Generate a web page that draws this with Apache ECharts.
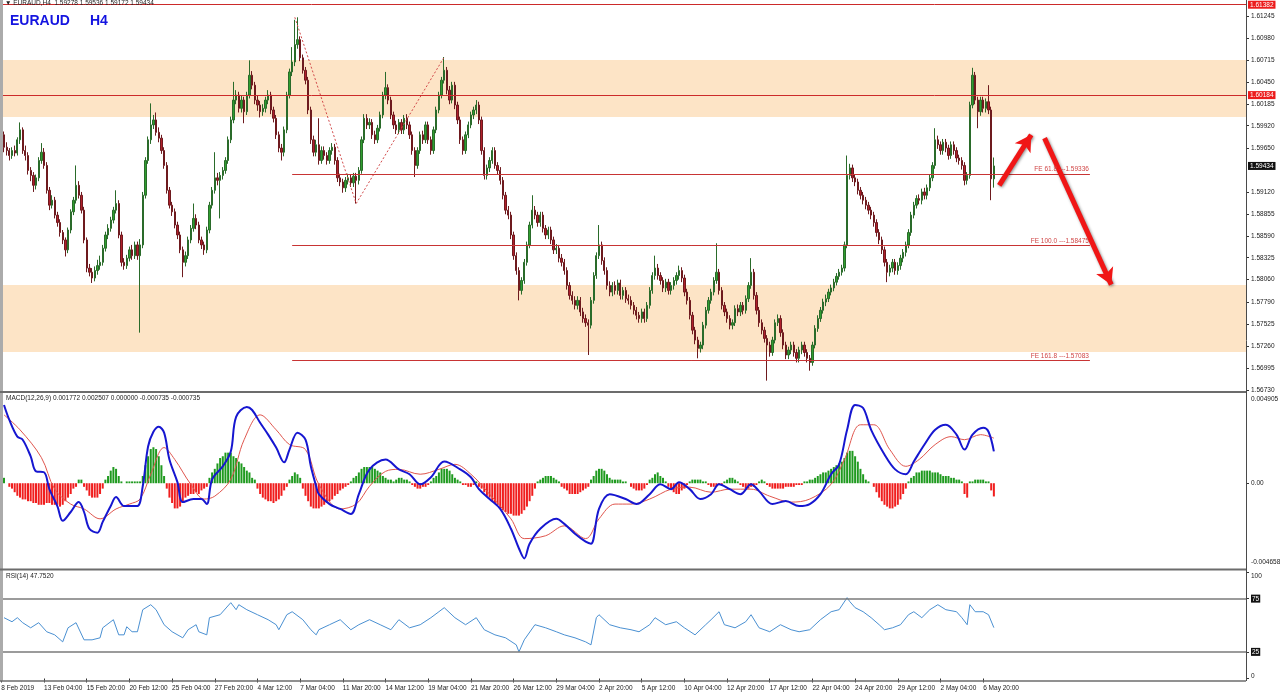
<!DOCTYPE html>
<html><head><meta charset="utf-8">
<script src="https://cdn.jsdelivr.net/npm/echarts@6/dist/echarts.min.js"></script>
<style>html,body{margin:0;padding:0;background:#fff}#c{width:1280px;height:693px}</style>
</head><body><div id="c"></div>
<script>
// ---------- DATA ----------
const symbolName = 'EURAUD';
const timeframe = 'H4';
const timeLabels = ['8 Feb 2019','13 Feb 04:00','15 Feb 20:00','20 Feb 12:00','25 Feb 04:00','27 Feb 20:00','4 Mar 12:00','7 Mar 04:00','11 Mar 20:00','14 Mar 12:00','19 Mar 04:00','21 Mar 20:00','26 Mar 12:00','29 Mar 04:00','2 Apr 20:00','5 Apr 12:00','10 Apr 04:00','12 Apr 20:00','17 Apr 12:00','22 Apr 04:00','24 Apr 20:00','29 Apr 12:00','2 May 04:00','6 May 20:00'];
const barsPerLabel = 16;
const slotCount = 467; // bars + empty future space

// [open, close, low, high]
const candles = [
[1.6001,1.5981,1.5975,1.6023],[1.5981,1.5966,1.5960,1.5985],[1.5966,1.5962,1.5956,1.5972],[1.5962,1.5956,1.5950,1.5965],[1.5956,1.5962,1.5952,1.5966],
[1.5962,1.5959,1.5955,1.5968],[1.5959,1.5975,1.5956,1.5978],[1.5975,1.5987,1.5970,1.5996],[1.5987,1.5962,1.5958,1.5990],[1.5962,1.5956,1.5950,1.5968],
[1.5956,1.5938,1.5933,1.5960],[1.5938,1.5932,1.5925,1.5942],[1.5932,1.5920,1.5912,1.5936],[1.5920,1.5929,1.5915,1.5933],[1.5929,1.5950,1.5925,1.5954],
[1.5950,1.5960,1.5946,1.5971],[1.5960,1.5944,1.5940,1.5965],[1.5944,1.5914,1.5910,1.5948],[1.5914,1.5896,1.5890,1.5918],[1.5896,1.5902,1.5892,1.5908],
[1.5902,1.5884,1.5880,1.5906],[1.5884,1.5875,1.5870,1.5888],[1.5875,1.5863,1.5858,1.5879],[1.5863,1.5854,1.5849,1.5866],[1.5854,1.5842,1.5834,1.5857],
[1.5842,1.5866,1.5838,1.5869],[1.5866,1.5888,1.5862,1.5891],[1.5888,1.5902,1.5884,1.5906],[1.5902,1.5920,1.5898,1.5944],[1.5920,1.5908,1.5904,1.5925],
[1.5908,1.5890,1.5886,1.5912],[1.5890,1.5854,1.5850,1.5894],[1.5854,1.5820,1.5815,1.5857],[1.5820,1.5815,1.5810,1.5825],[1.5815,1.5808,1.5802,1.5820],
[1.5808,1.5817,1.5804,1.5822],[1.5817,1.5823,1.5812,1.5830],[1.5823,1.5827,1.5818,1.5835],[1.5827,1.5844,1.5823,1.5848],[1.5844,1.5860,1.5840,1.5864],
[1.5860,1.5868,1.5855,1.5873],[1.5868,1.5878,1.5864,1.5882],[1.5878,1.5890,1.5874,1.5894],[1.5890,1.5898,1.5886,1.5914],[1.5898,1.5860,1.5856,1.5902],
[1.5860,1.5827,1.5822,1.5864],[1.5827,1.5823,1.5818,1.5832],[1.5823,1.5832,1.5819,1.5836],[1.5832,1.5842,1.5828,1.5846],[1.5842,1.5835,1.5830,1.5848],
[1.5835,1.5848,1.5831,1.5852],[1.5848,1.5835,1.5830,1.5852],[1.5835,1.5848,1.5742,1.5855],[1.5848,1.5908,1.5844,1.5912],[1.5908,1.5950,1.5904,1.5954],
[1.5950,1.5975,1.5946,1.5979],[1.5975,1.5993,1.5970,1.6019],[1.5993,1.5999,1.5988,1.6005],[1.5999,1.5984,1.5980,1.6008],[1.5984,1.5977,1.5972,1.5990],
[1.5977,1.5962,1.5958,1.5981],[1.5962,1.5944,1.5940,1.5966],[1.5944,1.5914,1.5910,1.5948],[1.5914,1.5896,1.5892,1.5918],[1.5896,1.5888,1.5883,1.5900],
[1.5888,1.5872,1.5868,1.5892],[1.5872,1.5860,1.5855,1.5876],[1.5860,1.5842,1.5838,1.5864],[1.5842,1.5827,1.5809,1.5846],[1.5827,1.5835,1.5822,1.5840],
[1.5835,1.5854,1.5831,1.5858],[1.5854,1.5868,1.5850,1.5872],[1.5868,1.5880,1.5864,1.5898],[1.5880,1.5872,1.5867,1.5885],[1.5872,1.5854,1.5850,1.5876],
[1.5854,1.5848,1.5843,1.5858],[1.5848,1.5842,1.5836,1.5852],[1.5842,1.5866,1.5838,1.5870],[1.5866,1.5896,1.5862,1.5900],[1.5896,1.5914,1.5892,1.5918],
[1.5914,1.5929,1.5910,1.5960],[1.5929,1.5926,1.5920,1.5935],[1.5926,1.5932,1.5880,1.5936],[1.5932,1.5938,1.5927,1.5942],[1.5938,1.5950,1.5934,1.5954],
[1.5950,1.5975,1.5946,1.5979],[1.5975,1.5999,1.5971,1.6003],[1.5999,1.6023,1.5995,1.6045],[1.6023,1.6029,1.6018,1.6035],[1.6029,1.6013,1.6008,1.6033],
[1.6013,1.6023,1.6008,1.6028],[1.6023,1.6009,1.5995,1.6027],[1.6009,1.6029,1.6005,1.6033],[1.6029,1.6053,1.6025,1.6071],[1.6053,1.6041,1.6036,1.6058],
[1.6041,1.6023,1.6018,1.6045],[1.6023,1.6017,1.6010,1.6028],[1.6017,1.6009,1.6002,1.6022],[1.6009,1.6013,1.6004,1.6018],[1.6013,1.6023,1.6008,1.6027],
[1.6023,1.6029,1.6018,1.6035],[1.6029,1.6011,1.6006,1.6033],[1.6011,1.6001,1.5996,1.6015],[1.6001,1.5981,1.5976,1.6005],[1.5981,1.5965,1.5960,1.5985],
[1.5965,1.5960,1.5950,1.5970],[1.5960,1.5987,1.5955,1.5991],[1.5987,1.6029,1.5983,1.6033],[1.6029,1.6057,1.6025,1.6061],[1.6057,1.6069,1.6052,1.6087],
[1.6069,1.6090,1.6064,1.6120],[1.6090,1.6096,1.6085,1.6123],[1.6096,1.6074,1.6070,1.6100],[1.6074,1.6059,1.6055,1.6078],[1.6059,1.6047,1.6042,1.6063],
[1.6047,1.6011,1.6006,1.6051],[1.6011,1.5975,1.5970,1.6015],[1.5975,1.5960,1.5955,1.5980],[1.5960,1.5969,1.5955,1.5975],[1.5969,1.5950,1.5945,1.6001],
[1.5950,1.5962,1.5946,1.5967],[1.5962,1.5956,1.5951,1.5967],[1.5956,1.5950,1.5945,1.5960],[1.5950,1.5962,1.5946,1.5966],[1.5962,1.5966,1.5957,1.5971],
[1.5966,1.5950,1.5945,1.5970],[1.5950,1.5929,1.5924,1.5954],[1.5929,1.5924,1.5919,1.5934],[1.5924,1.5917,1.5911,1.5928],[1.5917,1.5926,1.5912,1.5930],
[1.5926,1.5929,1.5921,1.5934],[1.5929,1.5923,1.5918,1.5933],[1.5923,1.5931,1.5918,1.5935],[1.5931,1.5926,1.5898,1.5935],[1.5926,1.5938,1.5921,1.5942],
[1.5938,1.5975,1.5934,1.5979],[1.5975,1.6001,1.5971,1.6006],[1.6001,1.5993,1.5988,1.6006],[1.5993,1.5996,1.5988,1.6001],[1.5996,1.5981,1.5976,1.6000],
[1.5981,1.5975,1.5970,1.5986],[1.5975,1.5989,1.5971,1.5993],[1.5989,1.6005,1.5985,1.6009],[1.6005,1.6029,1.6001,1.6033],[1.6029,1.6038,1.6024,1.6057],
[1.6038,1.6023,1.6018,1.6042],[1.6023,1.6005,1.6000,1.6027],[1.6005,1.5993,1.5988,1.6009],[1.5993,1.5987,1.5982,1.5998],[1.5987,1.5996,1.5982,1.6000],
[1.5996,1.5987,1.5982,1.6000],[1.5987,1.6001,1.5982,1.6005],[1.6001,1.5993,1.5988,1.6006],[1.5993,1.5981,1.5976,1.5997],[1.5981,1.5962,1.5957,1.5985],
[1.5962,1.5944,1.5930,1.5966],[1.5944,1.5962,1.5940,1.5966],[1.5962,1.5981,1.5958,1.5985],[1.5981,1.5975,1.5970,1.5986],[1.5975,1.5993,1.5971,1.5997],
[1.5993,1.5975,1.5970,1.5997],[1.5975,1.5962,1.5957,1.5979],[1.5962,1.5987,1.5958,1.5991],[1.5987,1.6011,1.5983,1.6015],[1.6011,1.6029,1.6007,1.6033],
[1.6029,1.6047,1.6025,1.6051],[1.6047,1.6059,1.6043,1.6075],[1.6059,1.6035,1.6030,1.6063],[1.6035,1.6023,1.6018,1.6040],[1.6023,1.6041,1.6019,1.6045],
[1.6041,1.6017,1.6012,1.6045],[1.6017,1.5999,1.5994,1.6021],[1.5999,1.5975,1.5970,1.6003],[1.5975,1.5962,1.5957,1.5979],[1.5962,1.5981,1.5958,1.5985],
[1.5981,1.5993,1.5977,1.5997],[1.5993,1.6005,1.5989,1.6009],[1.6005,1.6011,1.6000,1.6015],[1.6011,1.6017,1.6006,1.6023],[1.6017,1.5999,1.5994,1.6021],
[1.5999,1.5962,1.5957,1.6003],[1.5962,1.5932,1.5927,1.5966],[1.5932,1.5941,1.5927,1.5945],[1.5941,1.5950,1.5936,1.5954],[1.5950,1.5962,1.5946,1.5966],
[1.5962,1.5944,1.5940,1.5966],[1.5944,1.5938,1.5933,1.5948],[1.5938,1.5926,1.5921,1.5942],[1.5926,1.5908,1.5903,1.5930],[1.5908,1.5890,1.5885,1.5912],
[1.5890,1.5884,1.5879,1.5895],[1.5884,1.5860,1.5855,1.5888],[1.5860,1.5835,1.5830,1.5864],[1.5835,1.5817,1.5812,1.5839],[1.5817,1.5793,1.5781,1.5821],
[1.5793,1.5805,1.5788,1.5809],[1.5805,1.5827,1.5801,1.5831],[1.5827,1.5848,1.5823,1.5852],[1.5848,1.5872,1.5844,1.5876],[1.5872,1.5890,1.5868,1.5908],
[1.5890,1.5884,1.5879,1.5895],[1.5884,1.5875,1.5870,1.5888],[1.5875,1.5884,1.5870,1.5888],[1.5884,1.5868,1.5863,1.5888],[1.5868,1.5860,1.5855,1.5872],
[1.5860,1.5866,1.5855,1.5870],[1.5866,1.5854,1.5849,1.5870],[1.5854,1.5842,1.5837,1.5858],[1.5842,1.5844,1.5837,1.5849],[1.5844,1.5832,1.5827,1.5848],
[1.5832,1.5827,1.5822,1.5837],[1.5827,1.5817,1.5812,1.5831],[1.5817,1.5799,1.5794,1.5821],[1.5799,1.5787,1.5782,1.5803],[1.5787,1.5781,1.5776,1.5792],
[1.5781,1.5775,1.5770,1.5786],[1.5775,1.5781,1.5770,1.5786],[1.5781,1.5767,1.5762,1.5785],[1.5767,1.5759,1.5754,1.5772],[1.5759,1.5754,1.5749,1.5764],
[1.5754,1.5751,1.5715,1.5758],[1.5751,1.5781,1.5747,1.5785],[1.5781,1.5811,1.5777,1.5815],[1.5811,1.5835,1.5807,1.5839],[1.5835,1.5848,1.5831,1.5872],
[1.5848,1.5829,1.5824,1.5852],[1.5829,1.5817,1.5812,1.5833],[1.5817,1.5799,1.5794,1.5821],[1.5799,1.5791,1.5786,1.5804],[1.5791,1.5799,1.5786,1.5803],
[1.5799,1.5793,1.5788,1.5804],[1.5793,1.5802,1.5788,1.5806],[1.5802,1.5787,1.5782,1.5806],[1.5787,1.5793,1.5782,1.5797],[1.5793,1.5783,1.5778,1.5797],
[1.5783,1.5781,1.5776,1.5788],[1.5781,1.5775,1.5770,1.5786],[1.5775,1.5769,1.5764,1.5779],[1.5769,1.5763,1.5758,1.5773],[1.5763,1.5759,1.5754,1.5767],
[1.5759,1.5767,1.5754,1.5771],[1.5767,1.5759,1.5754,1.5771],[1.5759,1.5775,1.5755,1.5779],[1.5775,1.5793,1.5771,1.5797],[1.5793,1.5811,1.5789,1.5815],
[1.5811,1.5820,1.5806,1.5835],[1.5820,1.5811,1.5806,1.5825],[1.5811,1.5805,1.5800,1.5815],[1.5805,1.5796,1.5791,1.5809],[1.5796,1.5803,1.5791,1.5807],
[1.5803,1.5793,1.5788,1.5807],[1.5793,1.5799,1.5788,1.5803],[1.5799,1.5805,1.5794,1.5809],[1.5805,1.5811,1.5800,1.5815],[1.5811,1.5817,1.5806,1.5823],
[1.5817,1.5808,1.5803,1.5821],[1.5808,1.5791,1.5786,1.5812],[1.5791,1.5781,1.5776,1.5795],[1.5781,1.5763,1.5758,1.5785],[1.5763,1.5745,1.5740,1.5767],
[1.5745,1.5733,1.5728,1.5749],[1.5733,1.5723,1.5711,1.5737],[1.5723,1.5727,1.5718,1.5731],[1.5727,1.5751,1.5722,1.5755],[1.5751,1.5769,1.5747,1.5773],
[1.5769,1.5781,1.5765,1.5785],[1.5781,1.5791,1.5777,1.5795],[1.5791,1.5805,1.5787,1.5809],[1.5805,1.5815,1.5801,1.5850],[1.5815,1.5793,1.5788,1.5819],
[1.5793,1.5775,1.5770,1.5797],[1.5775,1.5767,1.5762,1.5779],[1.5767,1.5759,1.5754,1.5771],[1.5759,1.5751,1.5746,1.5763],[1.5751,1.5754,1.5746,1.5758],
[1.5754,1.5771,1.5750,1.5775],[1.5771,1.5767,1.5762,1.5776],[1.5767,1.5775,1.5762,1.5779],[1.5775,1.5769,1.5764,1.5779],[1.5769,1.5783,1.5765,1.5787],
[1.5783,1.5799,1.5779,1.5803],[1.5799,1.5815,1.5795,1.5832],[1.5815,1.5787,1.5782,1.5819],[1.5787,1.5769,1.5764,1.5791],[1.5769,1.5754,1.5749,1.5773],
[1.5754,1.5745,1.5740,1.5758],[1.5745,1.5735,1.5730,1.5749],[1.5735,1.5727,1.5684,1.5739],[1.5727,1.5718,1.5713,1.5731],[1.5718,1.5733,1.5714,1.5737],
[1.5733,1.5754,1.5729,1.5758],[1.5754,1.5759,1.5750,1.5764],[1.5759,1.5742,1.5737,1.5763],[1.5742,1.5727,1.5722,1.5746],[1.5727,1.5715,1.5710,1.5731],
[1.5715,1.5721,1.5710,1.5725],[1.5721,1.5727,1.5716,1.5731],[1.5727,1.5718,1.5713,1.5731],[1.5718,1.5711,1.5706,1.5722],[1.5711,1.5721,1.5706,1.5725],
[1.5721,1.5727,1.5716,1.5731],[1.5727,1.5718,1.5713,1.5731],[1.5718,1.5711,1.5706,1.5722],[1.5711,1.5706,1.5696,1.5715],[1.5706,1.5727,1.5702,1.5731],
[1.5727,1.5747,1.5723,1.5751],[1.5747,1.5759,1.5743,1.5763],[1.5759,1.5769,1.5755,1.5773],[1.5769,1.5779,1.5765,1.5783],[1.5779,1.5783,1.5774,1.5788],
[1.5783,1.5791,1.5779,1.5795],[1.5791,1.5796,1.5787,1.5800],[1.5796,1.5803,1.5792,1.5807],[1.5803,1.5810,1.5799,1.5814],[1.5810,1.5815,1.5806,1.5819],
[1.5815,1.5820,1.5811,1.5824],[1.5820,1.5848,1.5816,1.5852],[1.5848,1.5932,1.5844,1.5956],[1.5932,1.5941,1.5927,1.5946],[1.5941,1.5929,1.5924,1.5945],
[1.5929,1.5924,1.5919,1.5933],[1.5924,1.5914,1.5909,1.5928],[1.5914,1.5908,1.5903,1.5918],[1.5908,1.5902,1.5897,1.5912],[1.5902,1.5896,1.5891,1.5906],
[1.5896,1.5890,1.5885,1.5900],[1.5890,1.5884,1.5879,1.5894],[1.5884,1.5875,1.5870,1.5888],[1.5875,1.5863,1.5858,1.5879],[1.5863,1.5854,1.5849,1.5867],
[1.5854,1.5842,1.5837,1.5858],[1.5842,1.5827,1.5822,1.5846],[1.5827,1.5815,1.5803,1.5831],[1.5815,1.5820,1.5810,1.5824],[1.5820,1.5827,1.5815,1.5831],
[1.5827,1.5817,1.5812,1.5831],[1.5817,1.5823,1.5812,1.5827],[1.5823,1.5832,1.5818,1.5836],[1.5832,1.5839,1.5827,1.5843],[1.5839,1.5848,1.5834,1.5852],
[1.5848,1.5863,1.5844,1.5867],[1.5863,1.5884,1.5859,1.5888],[1.5884,1.5896,1.5880,1.5900],[1.5896,1.5904,1.5892,1.5908],[1.5904,1.5902,1.5897,1.5909],
[1.5902,1.5912,1.5897,1.5916],[1.5912,1.5908,1.5903,1.5917],[1.5908,1.5917,1.5903,1.5921],[1.5917,1.5929,1.5913,1.5933],[1.5929,1.5944,1.5925,1.5948],
[1.5944,1.5975,1.5940,1.5989],[1.5975,1.5969,1.5964,1.5980],[1.5969,1.5962,1.5957,1.5973],[1.5962,1.5972,1.5957,1.5976],[1.5972,1.5965,1.5960,1.5976],
[1.5965,1.5956,1.5951,1.5969],[1.5956,1.5969,1.5952,1.5973],[1.5969,1.5962,1.5957,1.5973],[1.5962,1.5953,1.5948,1.5966],[1.5953,1.5950,1.5945,1.5957],
[1.5950,1.5944,1.5939,1.5954],[1.5944,1.5926,1.5920,1.5948],[1.5926,1.5932,1.5921,1.5936],[1.5932,1.6017,1.5928,1.6021],[1.6017,1.6053,1.6013,1.6062],
[1.6053,1.6023,1.6018,1.6057],[1.6023,1.6009,1.5989,1.6027],[1.6009,1.6023,1.6004,1.6027],[1.6023,1.6013,1.6008,1.6027],[1.6013,1.6021,1.6008,1.6025],
[1.6021,1.6011,1.6006,1.6041],[1.6011,1.59278,1.5902,1.6015],[1.59278,1.59434,1.59172,1.59536]
];

const macdHist = [
0.0003,0.0003,0,
-0.0002,-0.0003,-0.0005,-0.0007,-0.0008,-0.0009,-0.0009,-0.001,-0.001,-0.0011,-0.0011,-0.0012,-0.0012,-0.0012,-0.0011,-0.0011,-0.0012,-0.0012,-0.0012,-0.0013,-0.0012,-0.001,-0.0008,-0.0006,-0.0003,-0.0002,
0.0002,0.0002,
-0.0002,-0.0004,-0.0007,-0.0008,-0.0008,-0.0008,-0.0006,-0.0003,
0.0002,0.0004,0.0007,0.0009,0.0008,0.0004,
0.0001,0,0.0001,
0.0001,0.0001,0.0001,0.0001,0.0001,
0.0004,0.001,0.0015,0.0019,0.002,0.0019,0.0015,0.001,0.0004,
-0.0003,-0.0008,-0.0011,-0.0014,-0.0014,-0.0013,-0.0011,-0.0008,-0.0007,-0.0006,-0.0006,-0.0005,-0.0006,-0.0004,-0.0003,-0.0002,
0.0003,0.0006,0.0008,0.0011,0.0014,0.0015,0.0017,0.0017,0.0017,0.0015,0.0014,0.0012,0.0011,0.0009,0.0007,0.0006,0.0003,0.0002,
-0.0003,-0.0006,-0.0008,-0.0009,-0.001,-0.001,-0.0011,-0.001,-0.0009,-0.0007,-0.0004,-0.0002,
0.0002,0.0004,0.0006,0.0005,0.0003,
-0.0003,-0.0007,-0.001,-0.0013,-0.0014,-0.0014,-0.0014,-0.0013,-0.0012,-0.0011,-0.001,-0.0009,-0.0007,-0.0006,-0.0004,-0.0003,-0.0002,-0.0001,
0.0001,0.0003,0.0004,0.0006,0.0008,0.0009,0.0009,0.0009,0.0009,0.0008,0.0007,0.0006,0.0004,0.0003,0.0002,0.0002,0.0001,
0.0002,0.0003,0.0003,0.0002,0.0002,0.0001,
-0.0001,-0.0002,-0.0003,-0.0003,-0.0002,-0.0002,-0.0001,
0.0001,0.0003,0.0004,0.0006,0.0008,0.0008,0.0008,0.0007,0.0005,0.0003,0.0002,0.0001,
-0.0001,-0.0001,-0.0002,-0.0002,-0.0001,
0.0001,
-0.0002,-0.0003,-0.0005,-0.0007,-0.0008,-0.001,-0.0011,-0.0012,-0.0014,-0.0015,-0.0016,-0.0017,-0.0017,-0.0018,-0.0018,-0.0018,-0.0017,-0.0015,-0.0013,-0.001,-0.0007,-0.0003,
0.0001,0.0002,0.0003,0.0004,0.0004,0.0004,0.0003,0.0002,0.0001,
-0.0002,-0.0003,-0.0004,-0.0006,-0.0006,-0.0006,-0.0006,-0.0005,-0.0004,-0.0003,-0.0002,
0.0002,0.0004,0.0007,0.0008,0.0008,0.0007,0.0005,0.0003,
0.0002,0.0002,0.0002,0.0002,0.0001,0.0001,0,
-0.0002,-0.0003,-0.0004,-0.0004,-0.0004,-0.0003,-0.0001,
0.0002,0.0003,0.0005,0.0006,0.0004,0.0003,0.0001,
-0.0002,-0.0003,-0.0005,-0.0006,-0.0006,-0.0004,-0.0003,-0.0001,
0.0001,0.0002,0.0002,0.0002,0.0002,0.0001,0.0001,
-0.0001,-0.0002,-0.0002,-0.0002,-0.0001,-0.0001,
0.0001,0.0002,0.0003,0.0003,0.0002,0.0001,
-0.0001,-0.0002,-0.0003,-0.0003,-0.0002,-0.0002,-0.0001,
0.0001,0.0002,0.0001,
-0.0001,-0.0002,-0.0003,-0.0003,-0.0003,-0.0003,-0.0003,-0.0002,-0.0002,-0.0002,-0.0002,-0.0001,-0.0001,-0.0001,
0.0001,0.0001,0.0002,0.0002,0.0003,
0.0004,0.0005,0.0006,0.0006,0.0007,0.0008,0.0009,0.001,0.0011,0.0012,0.0014,0.0017,0.0018,0.0018,0.0015,0.0012,0.0008,
0.0005,0.0002,0.0001,0,
-0.0002,-0.0005,-0.0008,-0.001,-0.0012,-0.0013,-0.0014,-0.0014,-0.0013,-0.0012,-0.0009,-0.0006,-0.0003,
0.0001,0.0003,0.0004,0.0006,0.0006,0.0007,0.0007,0.0007,0.0007,0.0006,0.0006,0.0006,0.0005,0.0004,0.0004,0.0004,0.0003,0.0003,0.0002,0.0002,0.0001,
-0.0006,-0.0008,
0.0001,0.0001,0.0002,0.0002,0.0002,0.0002,0.0001,0.0001,
-0.0004,-0.000735
];

// [bar index, value]
const macdMain = [[1,0.00435],[3,0.00352],[6,0.00259],[8,0.00242],[11,0.00149],[13,0.00066],[16,0.00061],[18,-0.00033],[21,-0.00127],[23,-0.00209],[26,-0.0016],[29,-0.00105],[31,-0.0016],[33,-0.00253],[36,-0.00275],[38,-0.00215],[41,-0.00127],[43,-0.00077],[46,-0.00127],[48,-0.00127],[51,-0.00127],[53,-0.00017],[55,0.00204],[57,0.00286],[59,0.00314],[61,0.00281],[63,0.00132],[66,0.00006],[68,-0.00105],[72,-0.00088],[75,-0.00088],[77,-0.00116],[79,0.00022],[83,0.00094],[86,0.00176],[88,0.00369],[92,0.00424],[94,0.00407],[97,0.00336],[100,0.0027],[103,0.00198],[106,0.00116],[108,0.00187],[111,0.00281],[114,0.00242],[116,0.00094],[118,-0.00017],[119,-0.00061],[123,-0.00116],[127,-0.00143],[131,-0.00171],[134,-0.00061],[138,0.00077],[144,0.00132],[149,0.00077],[153,0.0005],[157,-0.00006],[161,0.00033],[166,0.00121],[172,0.00077],[176,0.00033],[179,-0.00033],[183,-0.00088],[187,-0.00143],[191,-0.00253],[194,-0.00363],[196,-0.00418],[198,-0.00336],[202,-0.00253],[208,-0.00198],[211,-0.00226],[215,-0.00281],[219,-0.00325],[221,-0.00336],[224,-0.00143],[228,-0.00061],[234,-0.00088],[238,-0.00116],[243,-0.00061],[247,-0.00006],[251,-0.00033],[254,0.00006],[258,-0.00033],[262,-0.00088],[266,-0.00061],[269,-0.00006],[273,-0.00033],[277,-0.00061],[281,-0.00006],[284,-0.00044],[289,-0.00116],[294,-0.00099],[299,-0.00127],[303,-0.00116],[307,-0.00061],[311,0.0005],[314,0.00105],[317,0.00297],[320,0.00435],[323,0.00418],[326,0.00297],[331,0.0016],[335,0.00077],[339,0.0005],[342,0.00121],[346,0.00215],[350,0.00297],[354,0.00325],[358,0.0027],[361,0.00187],[364,0.0027],[368,0.00308],[370,0.00286],[372,0.001772]];
const macdSignal = [[1,0.0038],[7,0.00297],[15,0.00143],[20,-0.00033],[26,-0.00116],[31,-0.00143],[37,-0.00198],[43,-0.00143],[48,-0.00116],[52,-0.00088],[56,0.0005],[61,0.00198],[65,0.00132],[71,-0.00006],[76,-0.00088],[80,-0.00072],[86,0.00022],[91,0.00242],[97,0.0038],[103,0.00297],[108,0.00215],[114,0.00187],[119,-0.00006],[127,-0.00143],[133,-0.00116],[138,-0.00017],[144,0.00066],[149,0.00077],[157,0.0005],[164,0.00077],[170,0.00105],[176,0.0005],[183,-0.00061],[191,-0.00198],[196,-0.00308],[204,-0.00292],[211,-0.00237],[219,-0.00308],[224,-0.00198],[230,-0.00116],[236,-0.00116],[243,-0.00088],[251,-0.00033],[258,-0.00022],[266,-0.0005],[273,-0.00033],[281,-0.00033],[288,-0.00072],[296,-0.00105],[303,-0.00088],[311,-0.00006],[316,0.00132],[322,0.00325],[327,0.00325],[333,0.00187],[339,0.00094],[344,0.00132],[350,0.00215],[356,0.00259],[361,0.00242],[367,0.0027],[372,0.002507]];

const rsi = [[1,57.1],[4,53.3],[6,57.1],[8,52.4],[11,47.6],[14,52.4],[17,43.9],[20,41.0],[23,34.4],[25,47.6],[28,52.4],[31,36.3],[34,36.3],[37,38.2],[38,47.6],[42,55.2],[44,41.0],[46,41.0],[47,48.6],[49,43.9],[51,43.9],[53,64.6],[56,69.3],[58,64.6],[61,50.5],[64,43.9],[68,38.2],[70,45.8],[73,50.5],[74,43.9],[77,41.0],[78,57.1],[82,59.9],[86,71.2],[88,64.6],[89,69.3],[92,64.6],[96,59.9],[100,55.2],[103,50.5],[104,45.8],[107,59.9],[109,62.7],[113,55.2],[116,45.8],[118,41.0],[119,45.8],[123,50.5],[127,55.2],[131,45.8],[134,50.5],[138,55.2],[142,50.5],[146,45.8],[149,55.2],[153,47.6],[157,50.5],[161,57.1],[164,62.7],[166,66.5],[170,57.1],[174,50.5],[178,57.1],[181,45.8],[185,41.0],[189,38.2],[193,31.6],[194,25.0],[196,36.3],[200,50.5],[204,47.6],[208,43.9],[211,41.0],[215,38.2],[219,34.4],[221,31.6],[223,57.1],[224,59.9],[228,50.5],[232,47.6],[236,45.8],[239,43.9],[243,50.5],[245,57.1],[249,50.5],[253,53.3],[256,47.6],[260,41.0],[264,50.5],[266,55.2],[269,62.7],[271,50.5],[275,47.6],[279,53.3],[281,59.9],[284,47.6],[288,43.9],[292,50.5],[296,45.8],[299,43.9],[303,45.8],[307,55.2],[311,62.7],[314,64.6],[317,75.9],[318,72.2],[320,66.5],[323,62.7],[326,57.1],[329,50.5],[331,45.8],[334,47.6],[337,50.5],[340,59.9],[342,62.7],[345,57.1],[348,64.6],[351,69.3],[354,64.6],[358,62.7],[360,57.1],[362,50.5],[363,69.3],[365,62.7],[368,62.7],[370,59.9],[372,47.752]];

const priceTicks = [1.56730,1.56995,1.57260,1.57525,1.57790,1.58060,1.58325,1.58590,1.58855,1.59120,1.59650,1.59920,1.60185,1.60450,1.60715,1.60980,1.61245];
const macdTicks = [-0.004658, 0, 0.004905];
const rsiTicks = [0, 25, 75, 100];
const rsiLevels = [75, 25];

const zones = [[1.60714, 1.60026], [1.57996, 1.57187]];
const topLine = 1.61382;
const resistLevel = 1.6029, resistLabel = '1.60184';
const bidPrice = 1.59434;
const feLevels = [['FE 61.8', 1.59336], ['FE 100.0', 1.58475], ['FE 161.8', 1.57083]];
const feRange = [109, 408];
const fibPoints = [[110, 1.6123], [133, 1.5898], [166, 1.6075]];
// arrows: [fromIndex, fromPrice, toIndex, toPrice]
const arrows = [[374, 1.5920, 386, 1.5981], [391, 1.5977, 416, 1.5800]];

// ---------- CHART ----------
const FONT = 'Liberation Sans';
const cats = Array.from({length: slotCount}, (_, i) => String(i));
const chart = echarts.init(document.getElementById('c'));
const lastC = candles[candles.length - 1];
const gridW = 1246;

const xBase = {type: 'category', data: cats, boundaryGap: true, axisLine: {show: false}, axisTick: {show: false}, axisLabel: {show: false}, splitLine: {show: false}};
const isLabelIdx = i => i % barsPerLabel === 0 && i / barsPerLabel < timeLabels.length;
const small = {fontSize: 6.5, color: '#1a1a1a', fontFamily: FONT};

chart.setOption({
  animation: false,
  backgroundColor: '#ffffff',
  grid: [
    {left: 0, width: gridW, top: 0, height: 390, outerBoundsMode: 'none'},
    {left: 0, width: gridW, top: 395, height: 172, outerBoundsMode: 'none'},
    {left: 0, width: gridW, top: 572, height: 106.5, outerBoundsMode: 'none'}
  ],
  xAxis: [
    Object.assign({}, xBase, {gridIndex: 0}),
    Object.assign({}, xBase, {gridIndex: 1}),
    Object.assign({}, xBase, {gridIndex: 2, offset: 3,
      axisTick: {show: true, alignWithLabel: true, interval: isLabelIdx, length: 4, lineStyle: {color: '#333'}},
      axisLabel: Object.assign({show: true, interval: isLabelIdx, formatter: (v, i) => timeLabels[i / barsPerLabel], align: 'left', margin: 3}, small)})
  ],
  yAxis: [
    {gridIndex: 0, type: 'value', position: 'right', min: 1.56727, max: 1.61439, splitLine: {show: false}, axisLine: {show: false},
      axisTick: {show: true, customValues: priceTicks, length: 3, lineStyle: {color: '#333'}},
      axisLabel: Object.assign({customValues: priceTicks, formatter: v => v.toFixed(5), margin: 5}, small)},
    {gridIndex: 1, type: 'value', position: 'right', min: macdTicks[0], max: macdTicks[2], splitLine: {show: false}, axisLine: {show: false},
      axisTick: {show: true, customValues: [0], length: 3, lineStyle: {color: '#333'}},
      axisLabel: Object.assign({customValues: macdTicks, margin: 5,
        formatter: v => v === 0 ? '0.00' : (v > 0 ? '{t|' + v.toFixed(6) + '}' : '{b|' + v.toFixed(6) + '}'),
        rich: {t: {fontSize: 6.5, fontFamily: FONT, color: '#1a1a1a', padding: [9, 0, 0, 0]}, b: {fontSize: 6.5, fontFamily: FONT, color: '#1a1a1a', padding: [0, 0, 9, 0]}}}, small)},
    {gridIndex: 2, type: 'value', position: 'right', min: 0, max: 100, splitLine: {show: false}, axisLine: {show: false},
      axisTick: {show: true, customValues: rsiTicks, length: 3, lineStyle: {color: '#333'}},
      axisLabel: Object.assign({customValues: rsiTicks, margin: 5,
        formatter: v => v === 100 ? '{t|100}' : v === 0 ? '{b|0}' : '{k|' + v + '}',
        rich: {t: {fontSize: 6.5, fontFamily: FONT, color: '#1a1a1a', padding: [8, 0, 0, 0]}, b: {fontSize: 6.5, fontFamily: FONT, color: '#1a1a1a', padding: [0, 0, 4, 0]},
               k: {fontSize: 6.5, fontFamily: FONT, color: '#ffffff', backgroundColor: '#111', padding: [1, 1, 0, 1]}}}, small)}
  ],
  series: [
    {type: 'candlestick', name: 'price', xAxisIndex: 0, yAxisIndex: 0, data: candles, barWidth: 1.8,
      itemStyle: {color: '#2f9e2f', color0: '#b01f2b', borderColor: '#2a6b2a', borderColor0: '#6e1a1e', borderWidth: 1},
      markArea: {silent: true, itemStyle: {color: '#fde4c6'}, data: zones.map(z => [{yAxis: z[0]}, {yAxis: z[1]}])},
      markLine: {silent: true, symbol: 'none', animation: false, precision: 5,
        data: [
          {yAxis: topLine, lineStyle: {color: '#cc2a2a', width: 1, type: 'solid'},
            label: {show: true, position: 'end', distance: 2, formatter: topLine.toFixed(5), backgroundColor: '#ec1c1c', color: '#fff', padding: [1, 2, 0, 2], fontSize: 6.5, fontFamily: FONT}},
          {yAxis: resistLevel, lineStyle: {color: '#cc2a2a', width: 1, type: 'solid'},
            label: {show: true, position: 'end', distance: 2, formatter: resistLabel, backgroundColor: '#ec1c1c', color: '#fff', padding: [1, 2, 0, 2], fontSize: 6.5, fontFamily: FONT}},
          {yAxis: bidPrice, lineStyle: {color: 'rgba(0,0,0,0)', width: 0.1, type: 'solid'},
            label: {show: true, position: 'end', distance: 2, formatter: bidPrice.toFixed(5), backgroundColor: '#111111', color: '#ffffff', opacity: 1, padding: [1, 2, 0, 2], fontSize: 6.5, fontFamily: FONT}}
        ].concat(feLevels.map(f => [
          {coord: [feRange[0], f[1]], lineStyle: {color: '#c83434', width: 1, type: 'solid'},
            label: {show: true, position: 'insideEndTop', distance: 1, formatter: f[0] + ' ---' + f[1].toFixed(5), color: '#d04444', fontSize: 6.5, fontFamily: FONT}},
          {coord: [feRange[1], f[1]]}
        ]))
      }
    },
    {type: 'line', name: 'fibo', xAxisIndex: 0, yAxisIndex: 0, data: fibPoints, symbol: 'none', z: 3,
      lineStyle: {color: '#d24a4a', width: 1, type: [2, 2]}},
    {type: 'line', name: 'arrows', xAxisIndex: 0, yAxisIndex: 0, data: [], z: 6,
      markLine: {silent: true, symbol: ['none', 'arrow'], symbolSize: [14, 16], precision: 5, label: {show: false},
        lineStyle: {color: '#f01616', width: 5, type: 'solid', shadowColor: 'rgba(0,0,0,0.45)', shadowBlur: 3, shadowOffsetX: 1, shadowOffsetY: 1},
        itemStyle: {color: '#f01616'},
        data: arrows.map(a => [{coord: [a[0], a[1]]}, {coord: [a[2], a[3]]}])}},
    {type: 'bar', name: 'hist', xAxisIndex: 1, yAxisIndex: 1, data: macdHist, barWidth: 2,
      itemStyle: {color: p => p.value >= 0 ? '#1f9a1f' : '#f01e1e'}},
    {type: 'line', name: 'signal', xAxisIndex: 1, yAxisIndex: 1, data: macdSignal, symbol: 'none', smooth: 0.35,
      lineStyle: {color: '#e0564e', width: 1}},
    {type: 'line', name: 'macd', xAxisIndex: 1, yAxisIndex: 1, data: macdMain, symbol: 'none', smooth: 0.35,
      lineStyle: {color: '#1616d0', width: 2}},
    {type: 'line', name: 'rsi', xAxisIndex: 2, yAxisIndex: 2, data: rsi, symbol: 'none',
      lineStyle: {color: '#4a90d2', width: 1},
      markLine: {silent: true, symbol: 'none', label: {show: false}, lineStyle: {color: '#7a7a7a', width: 1.5, type: 'solid'},
        data: rsiLevels.map(v => ({yAxis: v}))}}
  ],
  graphic: [
    {type: 'rect', silent: true, z: 100, shape: {x: 0, y: 0, width: 3, height: 681}, style: {fill: '#ababab'}},
    {type: 'line', silent: true, z: 100, shape: {x1: 0, y1: 392, x2: gridW, y2: 392}, style: {stroke: '#6c6c6c', lineWidth: 2}},
    {type: 'line', silent: true, z: 100, shape: {x1: 0, y1: 569.5, x2: gridW, y2: 569.5}, style: {stroke: '#6c6c6c', lineWidth: 2}},
    {type: 'line', silent: true, z: 100, shape: {x1: 0, y1: 681, x2: gridW, y2: 681}, style: {stroke: '#6c6c6c', lineWidth: 1.5}},
    {type: 'line', silent: true, z: 100, shape: {x1: gridW + 0.5, y1: 0, x2: gridW + 0.5, y2: 681}, style: {stroke: '#4a4a4a', lineWidth: 1}},
    {type: 'text', silent: true, z: 101, left: 5, top: 0, style: {text: '\u25BC ' + symbolName + ',' + timeframe + '  ' + lastC[0].toFixed(5) + ' ' + lastC[3].toFixed(5) + ' ' + lastC[2].toFixed(5) + ' ' + lastC[1].toFixed(5), fontSize: 6.5, fontFamily: FONT, fill: '#222'}},
    {type: 'text', silent: true, z: 101, left: 10, top: 14, style: {text: symbolName, fontSize: 14, fontWeight: 'bold', fontFamily: FONT, fill: '#1414e0'}},
    {type: 'text', silent: true, z: 101, left: 90, top: 14, style: {text: timeframe, fontSize: 14, fontWeight: 'bold', fontFamily: FONT, fill: '#1414e0'}},
    {type: 'text', silent: true, z: 101, left: 6, top: 395, style: {text: 'MACD(12,26,9) ' + macdMain[macdMain.length - 1][1].toFixed(6) + ' ' + macdSignal[macdSignal.length - 1][1].toFixed(6) + ' 0.000000 ' + macdHist[macdHist.length - 1].toFixed(6) + ' ' + macdHist[macdHist.length - 1].toFixed(6), fontSize: 6.5, fontFamily: FONT, fill: '#222'}},
    {type: 'text', silent: true, z: 101, left: 6, top: 573, style: {text: 'RSI(14) ' + rsi[rsi.length - 1][1].toFixed(4), fontSize: 6.5, fontFamily: FONT, fill: '#222'}}
  ]
});
</script>
</body></html>
